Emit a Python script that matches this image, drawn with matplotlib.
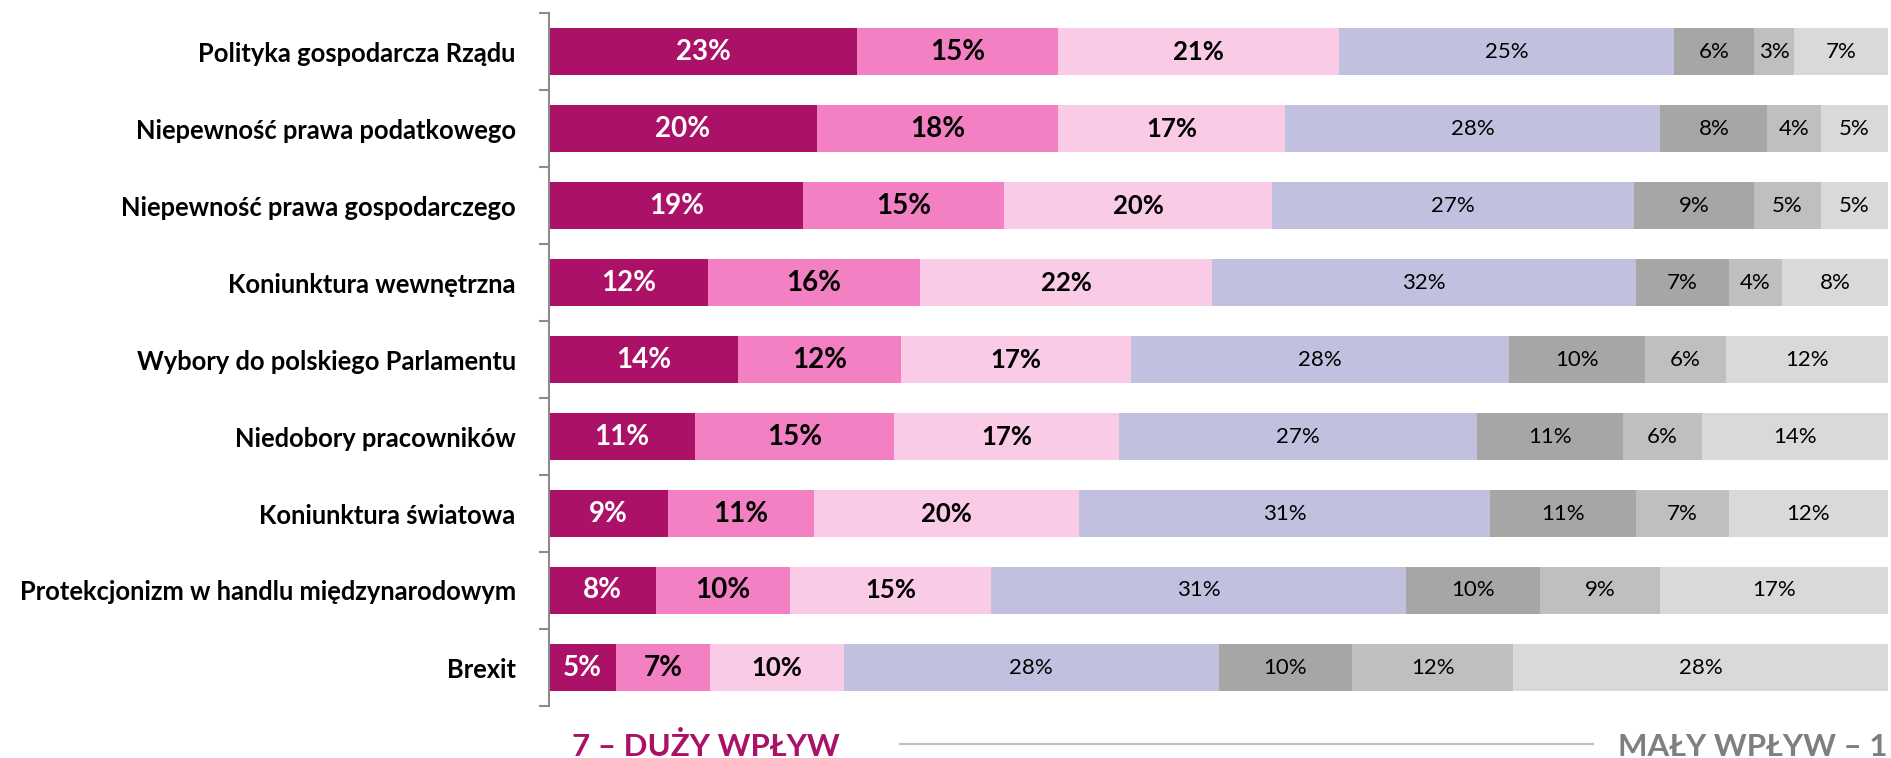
import matplotlib
matplotlib.use("Agg")
import matplotlib.pyplot as plt
from matplotlib.lines import Line2D
import numpy as np

categories = [
    "Polityka gospodarcza Rządu",
    "Niepewność prawa podatkowego",
    "Niepewność prawa gospodarczego",
    "Koniunktura wewnętrzna",
    "Wybory do polskiego Parlamentu",
    "Niedobory pracowników",
    "Koniunktura światowa",
    "Protekcjonizm w handlu międzynarodowym",
    "Brexit",
]

# Impact scale 7 (large) ... 1 (small), percent of answers
s7 = [23, 20, 19, 12, 14, 11, 9, 8, 5]
s6 = [15, 18, 15, 16, 12, 15, 11, 10, 7]
s5 = [21, 17, 20, 22, 17, 17, 20, 15, 10]
s4 = [25, 28, 27, 32, 28, 27, 31, 31, 28]
s3 = [6, 8, 9, 7, 10, 11, 11, 10, 10]
s2 = [3, 4, 5, 4, 6, 6, 7, 9, 12]
s1 = [7, 5, 5, 8, 12, 14, 12, 17, 28]

legend_left = "7 – DUŻY WPŁYW"
legend_right = "MAŁY WPŁYW – 1"

series = [s7, s6, s5, s4, s3, s2, s1]
colors = ["#AB1267", "#F480C4", "#F9CBE6", "#C1C0DF", "#A6A6A6", "#BFBFBF", "#D9D9D9"]
text_colors = ["white", "black", "black", "black", "black", "black", "black"]
text_weights = ["bold", "bold", "bold", "normal", "normal", "normal", "normal"]
text_sizes = [20, 20, 18.5, 16, 16, 16, 16]

plt.rcParams["font.family"] = ["Lato", "DejaVu Sans"]

W, H = 1891, 758
fig = plt.figure(figsize=(W / 100, H / 100), dpi=100)
ax = fig.add_axes([549 / W, 1 - 706 / H, (1888 - 549) / W, (706 - 13) / H])

data = np.array(series, dtype=float)  # shape (7, 9)
totals = data.sum(axis=0)
widths = data / totals * 100.0
y = np.arange(len(categories))
left = np.zeros(len(categories))
for i in range(len(series)):
    ax.barh(y, widths[i], left=left, height=0.61, color=colors[i], edgecolor="none")
    for j in range(len(categories)):
        ax.text(left[j] + widths[i][j] / 2, y[j], f"{int(data[i][j])}%",
                ha="center", va="center", color=text_colors[i],
                fontsize=text_sizes[i], fontweight=text_weights[i])
    left += widths[i]

ax.set_xlim(0, 100)
ax.set_ylim(len(categories) - 0.5, -0.5)
ax.set_yticks(y)
ax.set_yticklabels(categories, fontsize=18.4, fontweight="bold")
ax.set_yticks(np.arange(-0.5, len(categories), 1.0), minor=True)
ax.tick_params(axis="y", which="major", length=0, pad=24)
ax.tick_params(axis="y", which="minor", length=7, width=1.5, color="#8C8C8C")
ax.set_xticks([])
for s in ["top", "right", "bottom"]:
    ax.spines[s].set_visible(False)
ax.spines["left"].set_color("#8C8C8C")
ax.spines["left"].set_linewidth(1.5)

fig.text(572 / W, 1 - 747 / H, legend_left, ha="left", va="center",
         fontsize=22.5, fontweight="bold", color="#AB1267")
fig.text(1888 / W, 1 - 747 / H, legend_right, ha="right", va="center",
         fontsize=22.5, fontweight="bold", color="#7F7F7F")
fig.add_artist(Line2D([900 / W, 1593 / W], [1 - 744 / H, 1 - 744 / H],
                      transform=fig.transFigure, color="#BFBFBF", linewidth=1.5))

fig.savefig("out.png", dpi=100)
